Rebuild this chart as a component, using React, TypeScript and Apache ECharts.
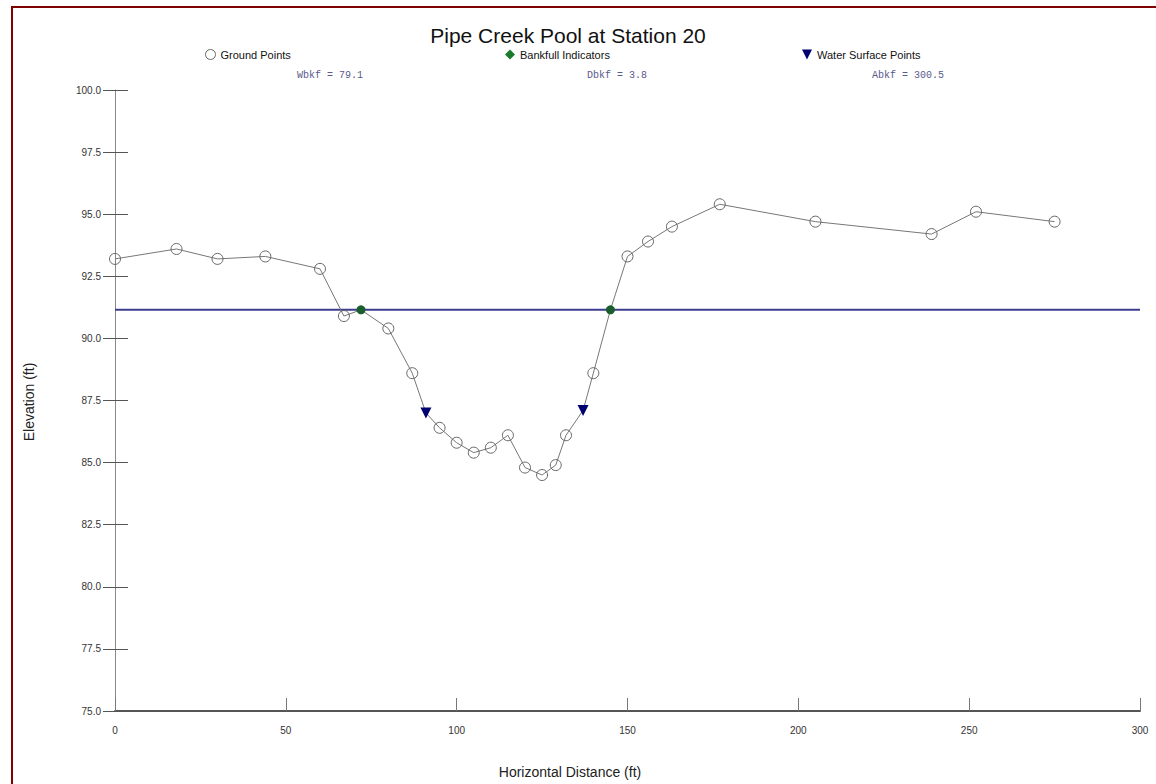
import React, { useEffect, useRef } from "react";
import * as echarts from "echarts";

// Ground survey points (station ft, elevation ft)
const groundX = [0, 18, 30, 44, 60, 67, 80, 87, 95, 100, 105, 110, 115, 120, 125, 129, 132, 140, 150, 156, 163, 177, 205, 239, 252, 275];
const groundY = [93.2, 93.6, 93.2, 93.3, 92.8, 90.9, 90.4, 88.6, 86.4, 85.8, 85.4, 85.6, 86.1, 84.8, 84.5, 84.9, 86.1, 88.6, 93.3, 93.9, 94.5, 95.4, 94.7, 94.2, 95.1, 94.7];

// Bankfull indicators
const bankfullX = [72, 145];
const bankfullY = [91.15, 91.15];

// Water surface points
const wsX = [91, 137];
const wsY = [87.0, 87.1];

// Bankfull stage line
const stageElev = 91.15;
const stageRange = [0, 300];

// Axis ranges
const xMin = 0, xMax = 300, xStep = 50;
const yMin = 75, yMax = 100, yStep = 2.5;

const stats = ["Wbkf = 79.1", "Dbkf = 3.8", "Abkf = 300.5"];

const toPairs = (xs: number[], ys: number[]) => xs.map((x, i) => [x, ys[i]]);

export default function App() {
  const ref = useRef<HTMLDivElement>(null);
  useEffect(() => {
    if (!ref.current) return;
    const chart = echarts.init(ref.current, null, { renderer: "svg" });
    const profile = [
      ...toPairs(groundX, groundY),
      ...toPairs(bankfullX, bankfullY),
      ...toPairs(wsX, wsY),
    ].sort((a, b) => a[0] - b[0]);

    const legendCommon = {
      top: 44,
      itemWidth: 10,
      itemHeight: 10,
      itemGap: 4,
      textStyle: { fontFamily: "Liberation Sans", fontSize: 11, color: "#111" },
      selectedMode: false,
    };

    chart.setOption({
      animation: false,
      backgroundColor: "#fff",
      grid: { left: 115, right: 16, top: 90, bottom: 73 },
      legend: [
        {
          ...legendCommon,
          left: 200,
          data: [
            {
              name: "Ground Points",
              icon: "circle",
              itemStyle: { color: "#fff", borderColor: "#666", borderWidth: 1 },
            },
          ],
        },
        {
          ...legendCommon,
          left: 500,
          data: [{ name: "Bankfull Indicators", icon: "diamond", itemStyle: { color: "#1a7a2c", opacity: 1 } }],
        },
        {
          ...legendCommon,
          left: 797,
          data: [
            {
              name: "Water Surface Points",
              icon: "path://M0,0 L10,0 L5,10 Z",
              itemStyle: { color: "#000070", opacity: 1 },
            },
          ],
        },
      ],
      xAxis: {
        type: "value",
        min: xMin,
        max: xMax,
        interval: xStep,
        splitLine: { show: false },
        axisLine: { show: true, lineStyle: { color: "#555", width: 2 } },
        axisTick: { show: true, inside: true, length: 13, lineStyle: { color: "#777" } },
        axisLabel: { margin: 14, fontFamily: "Liberation Sans", fontSize: 10, color: "#333" },
      },
      yAxis: [
        {
          type: "value",
          min: yMin,
          max: yMax,
          interval: yStep,
          splitLine: { show: false },
          axisLine: { show: true, onZero: false, lineStyle: { color: "#888", width: 1 } },
          axisTick: { show: true, inside: true, length: 13, lineStyle: { color: "#555" } },
          axisLabel: {
            margin: 14,
            fontFamily: "Liberation Sans",
            fontSize: 10,
            color: "#333",
            formatter: (v: number) => v.toFixed(1),
          },
        },
        {
          type: "value",
          position: "left",
          min: yMin,
          max: yMax,
          interval: yStep,
          splitLine: { show: false },
          axisLine: { show: false },
          axisTick: { show: true, inside: false, length: 12, lineStyle: { color: "#555" } },
          axisLabel: { show: false },
        },
      ],
      series: [
        {
          name: "Bankfull Stage",
          type: "line",
          data: stageRange.map((x) => [x, stageElev]),
          showSymbol: false,
          lineStyle: { color: "#3d3d8f", width: 2 },
          z: 1,
          silent: true,
        },
        {
          name: "Profile",
          type: "line",
          data: profile,
          showSymbol: false,
          lineStyle: { color: "#777", width: 1 },
          z: 2,
          silent: true,
        },
        {
          name: "Ground Points",
          type: "scatter",
          data: toPairs(groundX, groundY),
          symbol: "circle",
          symbolSize: 11,
          itemStyle: { color: "rgba(255,255,255,0)", borderColor: "#666", borderWidth: 1, opacity: 1 },
          z: 3,
        },
        {
          name: "Bankfull Indicators",
          type: "scatter",
          data: toPairs(bankfullX, bankfullY),
          symbol: "circle",
          symbolSize: 9,
          itemStyle: { color: "#1b5e2e", opacity: 1 },
          z: 4,
        },
        {
          name: "Water Surface Points",
          type: "scatter",
          data: toPairs(wsX, wsY),
          symbol: "triangle",
          symbolRotate: 180,
          symbolSize: 11,
          itemStyle: { color: "#000070", opacity: 1 },
          z: 4,
        },
      ],
      graphic: [
        {
          type: "rect",
          shape: { x: 12, y: 7, width: 1300, height: 1000 },
          style: { fill: "none", stroke: "#800000", lineWidth: 2 },
          silent: true,
        },
        {
          type: "text",
          x: 568,
          y: 35,
          style: {
            text: "Pipe Creek Pool at Station 20",
            fontFamily: "Liberation Sans",
            fontSize: 21,
            fill: "#111",
            align: "center",
            verticalAlign: "middle",
          },
        },
        ...stats.map((t, i) => ({
          type: "text",
          x: [330, 617, 908][i],
          y: 75,
          style: {
            text: t,
            fontFamily: "Liberation Mono",
            fontSize: 10,
            fill: "#5a5a8c",
            align: "center",
            verticalAlign: "middle",
          },
        })),
        {
          type: "text",
          x: 570,
          y: 772,
          style: {
            text: "Horizontal Distance (ft)",
            fontFamily: "Liberation Sans",
            fontSize: 14,
            fill: "#222",
            align: "center",
            verticalAlign: "middle",
          },
        },
        {
          type: "text",
          x: 29,
          y: 402,
          rotation: Math.PI / 2,
          style: {
            text: "Elevation (ft)",
            fontFamily: "Liberation Sans",
            fontSize: 14,
            fill: "#222",
            align: "center",
            verticalAlign: "middle",
          },
        },
      ],
    });
    return () => chart.dispose();
  }, []);
  return (
    <div
      ref={ref}
      style={{ position: "absolute", left: 0, top: 0, width: 1156, height: 784 }}
    />
  );
}
